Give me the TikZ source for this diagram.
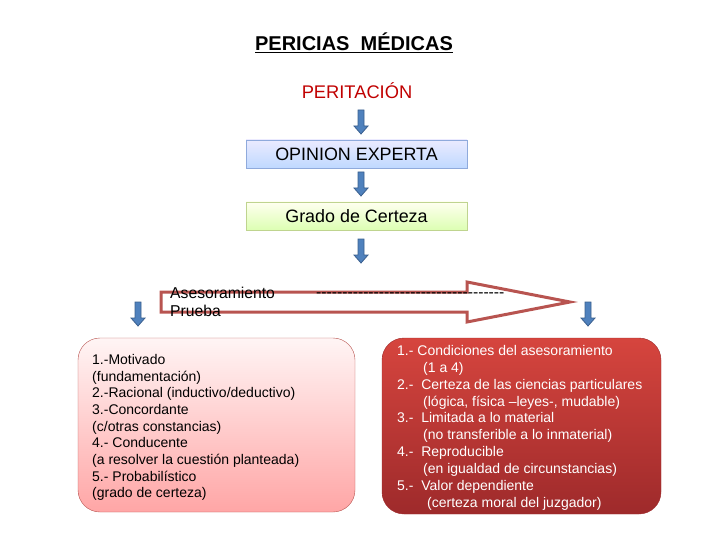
\documentclass[tikz,border=0pt]{standalone}
\usepackage{fontspec}
\setmainfont{Liberation Sans}
\usetikzlibrary{positioning}

\definecolor{arrowblue}{HTML}{4F81BD}
\definecolor{arrowedge}{HTML}{3A5F8E}
\definecolor{peritred}{HTML}{C00000}
\definecolor{bigred}{HTML}{B85450}
\definecolor{opinedge}{HTML}{8FAADC}
\definecolor{gradoedge}{HTML}{BFD48F}
\definecolor{rtop}{HTML}{D6453E}
\definecolor{rbottom}{HTML}{9E2A2B}

\newcommand{\dashrow}{\foreach \i in {1,...,36}{-}}

\begin{document}
\begin{tikzpicture}[x=1pt, y=-1pt, every node/.style={inner sep=0pt}]
    \useasboundingbox (0,0) rectangle (720,540);

    % Title
    \node[font=\fontsize{20}{23}\selectfont\bfseries] (title) at (354,43) {\underline{PERICIAS\ \ MÉDICAS}};
    \node[text=peritred, font=\fontsize{18.3}{21}\selectfont] (perit) at (357,91) {PERITACIÓN};

    % Boxes
    \node[draw=opinedge, top color=blue!8, bottom color=blue!60!cyan!25, minimum width=221, minimum height=28, font=\fontsize{17.9}{20}\selectfont] (opinion) at (356.5,154) {OPINION EXPERTA};
    \node[draw=gradoedge, top color=yellow!6, bottom color=green!45!yellow!30, minimum width=221, minimum height=28, font=\fontsize{17.9}{20}\selectfont] (grado) at (356.5,216) {Grado de Certeza};

    % Block arrows
    \foreach \x/\y [count=\n] in {361/110, 361/172, 361/239, 138/302, 588/302}
        \draw[fill=arrowblue, draw=arrowedge, line width=0.8] (\x-3,\y) -- (\x+3,\y) -- (\x+3,\y+16) -- (\x+7,\y+16) -- (\x,\y+24) -- (\x-7,\y+16) -- (\x-3,\y+16) -- cycle;

    % Outline arrow
    \draw[line width=3, draw=bigred, fill=white] (161,292) -- (467,292) -- (467,282) -- (570,302) -- (467,322) -- (467,312) -- (161,312) -- cycle;
    \node[anchor=west, align=left, font=\fontsize{15.7}{18.5}\selectfont] (aseso) at (170,302) {Asesoramiento\\Prueba};
    \node[anchor=west, font=\fontsize{15.7}{18}\selectfont] (dashes) at (316,295) {\dashrow};

    % Lower boxes
    \node[draw=bigred, rounded corners=22, top color=red!4, bottom color=red!35, minimum width=277, minimum height=174] (lbox) at (216.5,425) {};
    \node[anchor=north west, align=left, font=\fontsize{14}{16.7}\selectfont] (ltext) at (92,354) {1.-Motivado\\
        (fundamentación)\\
        2.-Racional (inductivo/deductivo)\\
        3.-Concordante\\
        (c/otras constancias)\\
        4.- Conducente\\
        (a resolver la cuestión planteada)\\
        5.- Probabilístico\\
        (grado de certeza)};

    \node[draw=rbottom, rounded corners=22, top color=rtop, bottom color=rbottom, minimum width=279, minimum height=176] (rbox) at (521.5,426) {};
    \node[anchor=north west, align=left, text=white, font=\fontsize{14}{16.9}\selectfont] (rtext) at (397,345) {1.- Condiciones del asesoramiento\\
        \hspace*{26pt}(1 a 4)\\
        2.-\ \ Certeza de las ciencias particulares\\
        \hspace*{26pt}(lógica, física –leyes-, mudable)\\
        3.-\ \ Limitada a lo material\\
        \hspace*{26pt}(no transferible a lo inmaterial)\\
        4.-\ \ Reproducible\\
        \hspace*{26pt}(en igualdad de circunstancias)\\
        5.-\ \ Valor dependiente\\
        \hspace*{30pt}(certeza moral del juzgador)};
\end{tikzpicture}
\end{document}
